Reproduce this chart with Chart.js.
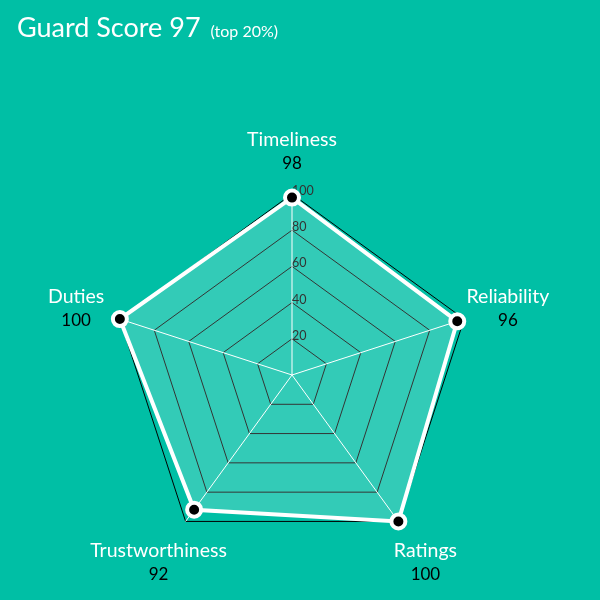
<!DOCTYPE html>
<html>
<head>
<meta charset="utf-8">
<script src="https://cdn.jsdelivr.net/npm/chart.js@4.4.1/dist/chart.umd.min.js"></script>
<style>
    html, body {
        margin: 0;
        padding: 0;
        background: #00bfa5;
    }
    .wrap {
        position: relative;
        width: 600px;
        height: 600px;
    }
    .title {
        position: absolute;
        left: 17px;
        top: 10px;
        color: #fff;
        font-family: Lato, sans-serif;
        font-size: 27px;
    }
    .title small {
        font-size: 16px;
        margin-left: 10px;
    }
</style>
</head>
<body>
<div class="wrap">
    <div class="title">Guard Score 97<small>(top 20%)</small></div>
    <canvas id="guardChart" width="600" height="600"></canvas>
</div>
<script>
const categories = ["Timeliness", "Reliability", "Ratings", "Trustworthiness", "Duties"];
const scores = [98, 96, 100, 92, 100];
const tickValues = [20, 40, 60, 80, 100];

// tick numbers sit just right of the vertical axis, over the fill but under the line
const tickText = {
    id: "tickText",
    beforeDatasetDraw(chart) {
        const scale = chart.scales.r;
        const ctx = chart.ctx;
        ctx.save();
        ctx.font = "12.5px Lato";
        ctx.fillStyle = "#333";
        ctx.textAlign = "left";
        ctx.textBaseline = "middle";
        tickValues.forEach((v) => {
            const d = scale.getDistanceFromCenterForValue(v);
            ctx.fillText(String(v), scale.xCenter, scale.yCenter - d - 3);
        });
        ctx.restore();
    },
};

// name (white) with score (black) centred under it, outside each corner
const scoreLabels = {
    id: "scoreLabels",
    afterDraw(chart) {
        const scale = chart.scales.r;
        const ctx = chart.ctx;
        ctx.save();
        ctx.textAlign = "center";
        ctx.textBaseline = "middle";
        categories.forEach((name, i) => {
            const p = scale.getPointPosition(i, scale.drawingArea + 46);
            ctx.font = "19.5px Lato";
            ctx.fillStyle = "#fff";
            ctx.fillText(name, p.x, p.y - 8);
            ctx.font = "17px Lato";
            ctx.fillStyle = "#000";
            ctx.fillText(String(scores[i]), p.x, p.y + 15.5);
        });
        ctx.restore();
    },
};

const ctx = document.getElementById("guardChart").getContext("2d");
const guardChart = new Chart(ctx, {
    type: "radar",
    data: {
        labels: categories,
        datasets: [
            {
                data: scores,
                backgroundColor: "rgba(255, 255, 255, 0.2)",
                borderColor: "#fff",
                borderWidth: 4,
                pointRadius: 7,
                pointBorderWidth: 4,
                pointBackgroundColor: "#000",
                pointBorderColor: "#fff",
            },
        ],
    },
    options: {
        responsive: false,
        animation: false,
        layout: {
            padding: { top: 194, bottom: 44, left: 0, right: 15 },
        },
        plugins: {
            legend: { display: false },
            tooltip: { enabled: false },
        },
        scales: {
            r: {
                min: 0,
                max: 100,
                ticks: { display: false, stepSize: 20 },
                grid: { color: "#000", lineWidth: 1 },
                angleLines: { color: "#fff", lineWidth: 1 },
                pointLabels: { display: false },
            },
        },
    },
    plugins: [tickText, scoreLabels],
});
</script>
</body>
</html>
